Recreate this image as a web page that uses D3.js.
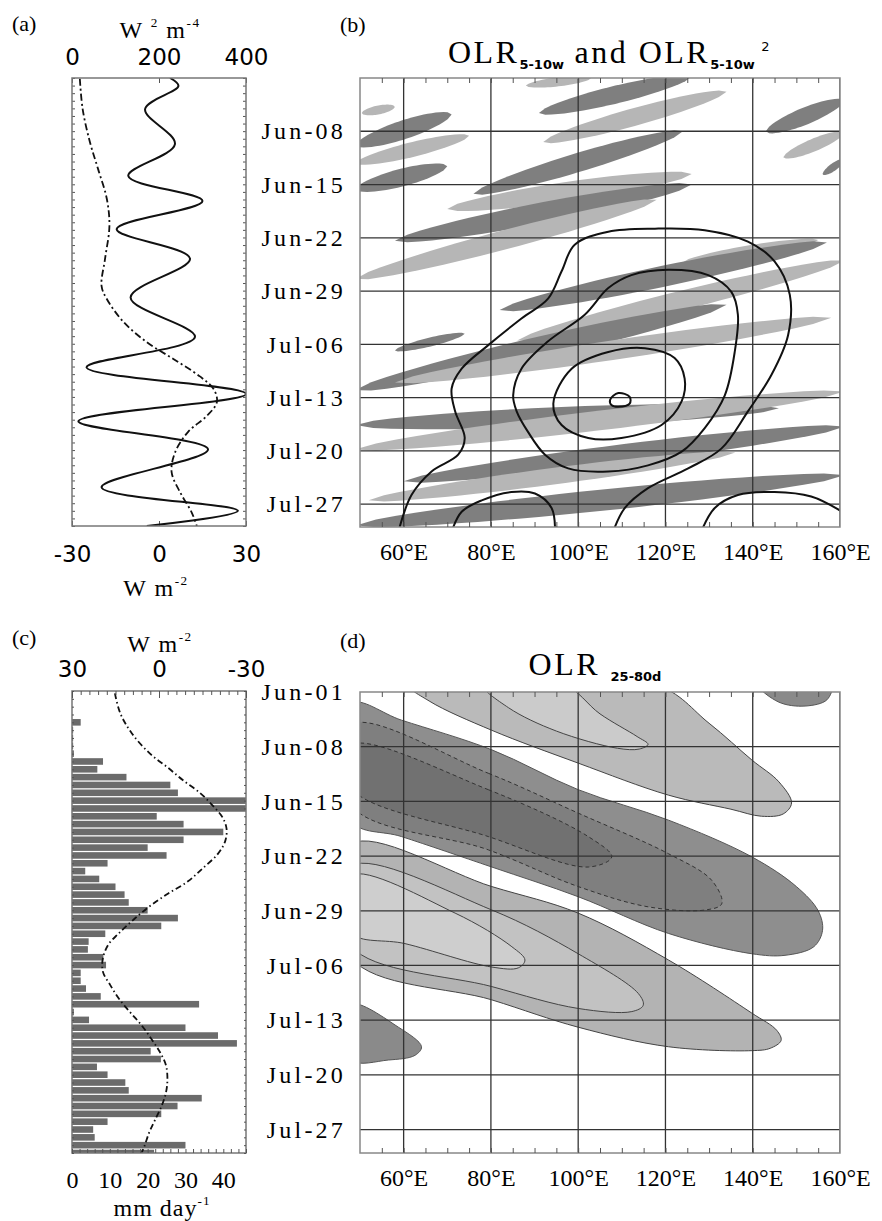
<!DOCTYPE html>
<html><head><meta charset="utf-8">
<script src="https://cdn.jsdelivr.net/npm/d3@7"></script>
<style>body{margin:0;background:#fff}</style>
</head><body><svg id="c" width="882" height="1221"></svg>
<script>
// ---------------- DATA ----------------
// Panel (a): day index from Jun-01
const aSolidDay = [0, 1.05, 4.1, 8.7, 12.9, 16.2, 19.9, 23.8, 28.9, 34.1, 38.1, 41.6, 45.2, 48.9, 53.9, 57, 59];
const aSolidVal = [3.8, 6.7, -4.8, 5.5, -10.6, 15, -14.6, 10.7, -9.8, 12.4, -25, 30, -27.8, 16.9, -19.8, 27.2, -4.2];
const aDashDay = [0.1, 4.1, 8.4, 12, 15.9, 19.5, 23.8, 27.4, 29.1, 32.1, 34.8, 37, 39.3, 41, 42.7, 44.5, 46.6, 49.3, 51.9, 54.5, 57.2, 59];
const aDashVal = [18, 24.5, 41, 60, 80, 86, 76, 68, 80, 118, 172, 233, 294, 326, 333, 310, 267, 237, 229, 248, 275, 287];
// Panel (c)
const cPrecip = [0,0,0,0,2.3,0.3,0.3,0.3,0.5,8.2, 6.7,14.4,26,28,47,47,22.4,29.5,40,29.5, 20,25,9.4,3.5,7.2,11.5,13.9,15,20,28, 23.6,8.8,4.4,4.2,8.3,9,2.3,2.3,3.7,7.6, 33.6,0.5,4.5,30,38.6,43.6,20.8,23.5,6.6,9.4, 14.1,15,34.3,27.9,23.6,9.4,5.6,6,30,21.7];
const cDashDay = [0.3, 2.8, 5.4, 8, 9.8, 11.4, 13.1, 14.7, 16.2, 17.6, 19.2, 20.8, 22.6, 24.3, 26, 27.8, 29.4, 31, 32.4, 34.2, 35.9, 37.5, 39.3, 41, 42.7, 44.5, 46.1, 47.8, 49.6, 51.3, 53, 54.8, 56.4, 58.1, 59];
const cDashVal = [15.2, 13.4, 9.4, 3.1, -3.1, -8.3, -14.4, -18.7, -22, -23.3, -22.8, -20.3, -15.2, -10, -2.6, 4.3, 9.4, 14, 17.5, 19.4, 19.3, 16.9, 13.8, 10, 6, 2.5, -0.3, -2.4, -2.9, -2.4, -0.9, 1.4, 3.4, 5, 6];
// Panel (b): streaks [lon1, day1, lon2, day2, thickness(days), shade]
const bStreaks = [
 [50.4, 4.6, 58, 3.8, 1.2, "l"],
 [49, 8.8, 71, 4.8, 2.6, "d"],
 [49, 11.2, 75, 7.6, 2.0, "l"],
 [49, 14.6, 70, 11.6, 2.4, "d"],
 [88, 1.0, 103, 0.0, 1.2, "l"],
 [91, 4.6, 126, -0.2, 2.4, "d"],
 [92, 8.4, 134, 1.8, 2.4, "l"],
 [143, 7.0, 161, 3.0, 2.4, "d"],
 [147, 10.4, 161, 7.2, 1.8, "l"],
 [156, 12.6, 161, 10.8, 1.2, "d"],
 [76, 15.2, 124, 7.0, 2.6, "d"],
 [70, 17.2, 126, 12.6, 2.6, "l"],
 [58, 21.4, 126, 14.0, 2.8, "d"],
 [49, 26.4, 118, 16.0, 2.6, "l"],
 [124, 24.2, 155, 21.3, 1.6, "l"],
 [82, 30.5, 157, 21.6, 2.8, "d"],
 [86, 34.5, 161, 24, 2.6, "l"],
 [58, 35.8, 74, 33.6, 1.2, "d"],
 [49, 41, 134, 29.8, 3.0, "d"],
 [58, 40, 158, 31.5, 2.6, "l"],
 [49, 45.6, 146, 43.4, 2.6, "d"],
 [49, 48.8, 161, 41.2, 2.6, "l"],
 [60, 53, 161, 45.8, 2.6, "d"],
 [52, 55.5, 136, 49.2, 2.2, "l"],
 [49, 58.8, 161, 52.2, 2.8, "d"]
];
// Panel (b): OLR^2 contours [lon, day]
const bOuter = [[58.8,59.6],[61.8,54.8],[66.4,51.7],[72.5,49.5],[74,47.3],[71.8,43.8],[71,40.8],[73.3,38.2],[79.4,35.1],[87,31.6],[93.1,29],[96.2,25.4],[99.2,21.9],[106.9,20.2],[117.6,19.8],[129,20],[138.9,21.5],[145,24.1],[148.5,28.5],[148.1,33.8],[144.3,39],[138.9,43.8],[132.8,48.7],[125.2,51.3],[116,53.9],[110.7,56.5],[108,59.6]];
const bMiddle = [[85.1,41.7],[87,38.2],[93.1,34.6],[101.5,31.1],[106.9,27.6],[112.2,25.9],[120.6,25.2],[129.8,25.9],[135.1,28.1],[136.6,31.1],[135.9,35.9],[133.6,41.7],[129,46],[123.7,49.1],[116,50.9],[106.9,51.7],[97.7,51.3],[92.4,49.5],[88.5,46.5],[85.9,43.8]];
const bInner = [[94.3,42.8],[98.5,38.2],[106.9,36],[115.3,35.5],[122.1,36.8],[124.4,39.5],[123.7,42.5],[119.1,45.6],[109.9,47.3],[102.3,47.3],[96.2,45.6]];
const bTiny = [[107.3,42.3],[109.2,41.4],[111.8,41.9],[111.8,42.8],[109.2,43.2],[107.7,43]];
const bArcLow = [[71,59.6],[73.3,57],[77.9,55.5],[84.7,54.4],[90.1,54.6],[93.9,56.5],[94.7,59.6]];
const bArcRight = [[128.2,59.6],[131.3,56.5],[136.6,54.8],[145,54.4],[153.4,55],[160.5,57]];
// Panel (d): regions [lon, day]
const dA = [[61,-1],[117.5,-1],[130,4],[139.8,8.7],[146,11.5],[148.9,14.2],[147,15.6],[142,15.9],[135,15],[120.7,13.2],[100,9.1],[80.2,4.9],[66,1.2]];
const dAin = [[78,-1],[96.5,-1],[105,2.8],[113.5,5.7],[116,6.7],[114,7.3],[109,7.2],[95,5],[84,2]];
const dB = [[48,1.5],[59.5,3.6],[80.2,7.4],[100,12.5],[120.7,16.4],[139.8,21.1],[150,24.9],[155,28],[156,30.5],[154,32.6],[147.4,33.7],[139.8,33.5],[120.7,30.9],[100,26.2],[80.2,22.4],[59.5,18.5],[48,16.5]];
const dBd1 = [[48,4.2],[79.4,10.4],[100,15.5],[120.7,20.7],[130.6,24.1],[132.9,27.1],[129.1,27.9],[116.1,27.5],[100,24.9],[79.4,20.2],[48,14.5]];
const dBd2 = [[48,6.8],[79.4,12.5],[102.3,18.5],[107.7,21.1],[102.3,22.4],[79.4,18.5],[48,12.3]];
const dC = [[48,19.5],[80.2,24.9],[100,28.3],[120.7,34.3],[139.8,41.1],[145.5,43.3],[146.5,44.6],[144,45.6],[139.8,45.9],[120.7,45.4],[100,42.9],[80.2,39.4],[48,34]];
const dCmid = [[48,22.3],[80.2,27.9],[100,33.5],[113.8,38.6],[114.9,40.1],[112.3,40.9],[100,40.5],[80.2,37.7],[48,32.5]];
const dCin = [[48,23.5],[71.8,28.3],[84.8,32.6],[87.8,34.3],[86.3,35.3],[80.2,35.2],[60.3,32.2],[48,30.8]];
const dD = [[48,40],[58.8,42.9],[64.1,45.4],[62.6,46.5],[56.5,47.1],[48,47.1]];
const dE = [[141.5,-0.8],[158,-0.8],[157,1],[152,1.8],[146,1.3]];
// ticks
const bDateTicks = [7,14,21,28,35,42,49,56];
const dDateTicks = [0,7,14,21,28,35,42,49,56];
const lonTicks = [60,80,100,120,140,160];

// ---------------- DRAW ----------------
const svg = d3.select("#c");
const SERIF = "'Liberation Serif','Times New Roman',serif";
const SANS = "'DejaVu Sans',sans-serif";
const fmtDate = d => d3.timeFormat("%b-%d")(d3.timeDay.offset(new Date(2000,5,1), d));
const fmtNum = d => String(d);
const defs = svg.append("defs");

function clip(id, x0,y0,x1,y1){
  defs.append("clipPath").attr("id",id).append("rect").attr("x",x0).attr("y",y0).attr("width",x1-x0).attr("height",y1-y0);
}
function styleAxis(g, size, fam){
  g.select(".domain").remove();
  g.selectAll("line").attr("stroke","#555").attr("stroke-width",1);
  g.selectAll("text").attr("font-family",fam).attr("font-size",size).attr("fill","#000");
}
function txt(x,y,s,size,fam,anchor){
  return svg.append("text").attr("x",x).attr("y",y).attr("font-family",fam||SERIF).attr("font-size",size).attr("text-anchor",anchor||"start").text(s);
}
function unitLabel(x,y,base,sup,base2,sup2,size){
  const t = svg.append("text").attr("x",x).attr("y",y).attr("font-family",SERIF).attr("font-size",size).attr("text-anchor","middle");
  t.append("tspan").text(base);
  if(sup){t.append("tspan").attr("font-size",size*0.55).attr("dy",-size*0.45).text(sup);}
  if(base2){t.append("tspan").attr("dy",sup?size*0.45:0).text(base2);}
  if(sup2){t.append("tspan").attr("font-size",size*0.55).attr("dy",-size*0.45).text(sup2);}
  return t;
}

// ===== Panel (a) =====
const xAt = d3.scaleLinear([0,400],[72,246]);
const xAb = d3.scaleLinear([-30,30],[72,246]);
const yA = d3.scaleLinear([0,59],[78,526]);
clip("clipA",72,78,246,526);
txt(12,31,"(a)",22);
unitLabel(160,38,"W ","2"," m","-4",24).attr("letter-spacing",1.5);
let g = svg.append("g").attr("transform","translate(0,78)").call(d3.axisTop(xAt).tickValues([0,200,400]).tickSize(-5).tickPadding(13).tickSizeOuter(0).tickFormat(fmtNum));
styleAxis(g,23,SANS);
g = svg.append("g").attr("transform","translate(0,526)").call(d3.axisBottom(xAb).tickValues([-30,0,30]).tickSize(-5).tickPadding(20).tickSizeOuter(0).tickFormat(fmtNum));
styleAxis(g,23,SANS);
g = svg.append("g").attr("transform","translate(72,0)").call(d3.axisRight(yA).tickValues(d3.range(0,60,1)).tickSize(3).tickFormat("").tickSizeOuter(0));
styleAxis(g,10,SANS);
g = svg.append("g").attr("transform","translate(246,0)").call(d3.axisLeft(yA).tickValues(d3.range(0,60,1)).tickSize(3).tickFormat("").tickSizeOuter(0));
styleAxis(g,10,SANS);
unitLabel(156,596,"W m","-2",null,null,24).attr("letter-spacing",1.5);
const aG = svg.append("g").attr("clip-path","url(#clipA)");
aG.append("path").datum(d3.zip(aDashDay,aDashVal))
  .attr("d",d3.line().x(d=>xAt(d[1])).y(d=>yA(d[0])).curve(d3.curveCatmullRom))
  .attr("fill","none").attr("stroke","#111").attr("stroke-width",1.8).attr("stroke-dasharray","7,3,2,3");
aG.append("path").datum(d3.zip(aSolidDay,aSolidVal))
  .attr("d",d3.line().x(d=>xAb(d[1])).y(d=>yA(d[0])).curve(d3.curveCatmullRom))
  .attr("fill","none").attr("stroke","#111").attr("stroke-width",2);
svg.append("rect").attr("x",72).attr("y",78).attr("width",174).attr("height",448).attr("fill","none").attr("stroke","#777").attr("stroke-width",1.5);

// ===== Panel (b) =====
const xB = d3.scaleLinear([50,160],[360,840]);
const yB = d3.scaleLinear([0,59],[78,527]);
clip("clipB",360,78,840,527);
txt(340,32,"(b)",22);
{
  const t = svg.append("text").attr("x",610).attr("y",63).attr("font-family",SERIF).attr("font-size",32).attr("letter-spacing",2.5).attr("text-anchor","middle");
  t.append("tspan").text("OLR");
  t.append("tspan").attr("font-family",SANS).attr("font-weight","bold").attr("font-size",13).attr("letter-spacing",0).attr("dy",6).text("5-10w");
  t.append("tspan").attr("dy",-6).text(" and OLR");
  t.append("tspan").attr("font-family",SANS).attr("font-weight","bold").attr("font-size",13).attr("letter-spacing",0).attr("dy",6).text("5-10w");
  t.append("tspan").attr("font-family",SANS).attr("font-size",13).attr("dy",-18).text(" 2");
}
const bG = svg.append("g").attr("clip-path","url(#clipB)");
function lens(s){
  const [l1,d1,l2,d2,w]=s, up=[], dn=[];
  for(let i=0;i<=24;i++){
    const t=i/24, h=(w/2)*Math.pow(Math.sin(Math.PI*t),0.5);
    const l=l1+(l2-l1)*t, d=d1+(d2-d1)*t;
    up.push([l,d-h]); dn.push([l,d+h]);
  }
  return up.concat(dn.reverse());
}
const lineB = d3.line().x(p=>xB(p[0])).y(p=>yB(p[1]));
bG.selectAll("path.streak").data(bStreaks).join("path").attr("class","streak")
  .attr("d",s=>lineB.curve(d3.curveLinearClosed)(lens(s)))
  .attr("fill",s=>s[5]==="d"?"#7f7f7f":"#b6b6b6");
// grid
bG.selectAll("line.vg").data(lonTicks).join("line").attr("x1",d=>xB(d)).attr("x2",d=>xB(d)).attr("y1",78).attr("y2",527).attr("stroke","#333").attr("stroke-width",1.3);
bG.selectAll("line.hg").data(bDateTicks).join("line").attr("y1",d=>yB(d)).attr("y2",d=>yB(d)).attr("x1",360).attr("x2",840).attr("stroke","#333").attr("stroke-width",1.3);
// contours
const closedB = d3.line().x(p=>xB(p[0])).y(p=>yB(p[1])).curve(d3.curveCatmullRomClosed);
const openB = d3.line().x(p=>xB(p[0])).y(p=>yB(p[1])).curve(d3.curveCatmullRom);
[bOuter,bArcLow,bArcRight].forEach(c=>bG.append("path").attr("d",openB(c)).attr("fill","none").attr("stroke","#111").attr("stroke-width",2));
[bMiddle,bInner,bTiny].forEach(c=>bG.append("path").attr("d",closedB(c)).attr("fill","none").attr("stroke","#111").attr("stroke-width",2));
svg.append("rect").attr("x",360).attr("y",78).attr("width",480).attr("height",449).attr("fill","none").attr("stroke","#888").attr("stroke-width",1.5);
g = svg.append("g").attr("transform","translate(0,78)").call(d3.axisTop(xB).tickValues(d3.range(55,160,5)).tickSize(-5).tickFormat("").tickSizeOuter(0)); styleAxis(g,10,SANS);
g = svg.append("g").attr("transform","translate(0,527)").call(d3.axisBottom(xB).tickValues(d3.range(55,160,5)).tickSize(-5).tickFormat("").tickSizeOuter(0)); styleAxis(g,10,SANS);
g = svg.append("g").attr("transform","translate(0,527)").call(d3.axisBottom(xB).tickValues(lonTicks).tickSize(0).tickPadding(16).tickFormat(d=>d+"°E")); styleAxis(g,24,SERIF);
g = svg.append("g").attr("transform","translate(360,0)").call(d3.axisLeft(yB).tickValues(bDateTicks).tickSize(0).tickPadding(14).tickFormat(fmtDate)); styleAxis(g,24,SERIF);
g.selectAll("text").attr("letter-spacing",3.2);

// ===== Panel (c) =====
const xCt = d3.scaleLinear([30,-30],[72,246]);
const xCb = d3.scaleLinear([0,46],[72,246]);
const yC = d3.scaleLinear([0,59],[691,1153]);
clip("clipC",72,691,246,1153);
txt(12,645,"(c)",22);
unitLabel(160,652,"W m","-2",null,null,24).attr("letter-spacing",1.5);
const cG = svg.append("g").attr("clip-path","url(#clipC)");
cG.selectAll("rect.bar").data(cPrecip).join("rect").attr("class","bar")
  .attr("x",72).attr("width",d=>xCb(d)-72)
  .attr("y",(d,i)=>yC(i-0.42)).attr("height",(d,i)=>yC(i+0.42)-yC(i-0.42))
  .attr("fill","#6b6b6b");
cG.append("path").datum(d3.zip(cDashDay,cDashVal))
  .attr("d",d3.line().x(d=>xCt(d[1])).y(d=>yC(d[0])).curve(d3.curveCatmullRom))
  .attr("fill","none").attr("stroke","#111").attr("stroke-width",1.8).attr("stroke-dasharray","6,3,1.5,3");
svg.append("rect").attr("x",72).attr("y",691).attr("width",174).attr("height",462).attr("fill","none").attr("stroke","#777").attr("stroke-width",1.5);
g = svg.append("g").attr("transform","translate(0,691)").call(d3.axisTop(xCt).tickValues(d3.range(30,-31,-3)).tickSize(-4).tickFormat("").tickSizeOuter(0)); styleAxis(g,10,SANS);
g = svg.append("g").attr("transform","translate(0,691)").call(d3.axisTop(xCt).tickValues([30,0,-30]).tickSize(-7).tickPadding(14).tickSizeOuter(0).tickFormat(fmtNum)); styleAxis(g,23,SANS);
g = svg.append("g").attr("transform","translate(0,1153)").call(d3.axisBottom(xCb).tickValues(d3.range(0,47,2)).tickSize(-4).tickFormat("").tickSizeOuter(0)); styleAxis(g,10,SANS);
g = svg.append("g").attr("transform","translate(0,1153)").call(d3.axisBottom(xCb).tickValues([0,10,20,30,40]).tickSize(0).tickPadding(18).tickFormat(fmtNum)); styleAxis(g,24,SERIF);
g = svg.append("g").attr("transform","translate(72,0)").call(d3.axisRight(yC).tickValues(d3.range(0,60,1)).tickSize(2).tickFormat("").tickSizeOuter(0)); styleAxis(g,10,SANS);
g = svg.append("g").attr("transform","translate(246,0)").call(d3.axisLeft(yC).tickValues(d3.range(0,60,1)).tickSize(2).tickFormat("").tickSizeOuter(0)); styleAxis(g,10,SANS);
unitLabel(162,1216,"mm day","-1",null,null,24).attr("letter-spacing",1);

// ===== Panel (d) =====
const xD = d3.scaleLinear([50,160],[360,840]);
const yD = d3.scaleLinear([0,59],[692,1153]);
clip("clipD",360,692,840,1153);
txt(340,648,"(d)",22);
{
  const t = svg.append("text").attr("x",595).attr("y",675).attr("font-family",SERIF).attr("font-size",32).attr("letter-spacing",2.5).attr("text-anchor","middle");
  t.append("tspan").text("OLR ");
  t.append("tspan").attr("font-family",SANS).attr("font-weight","bold").attr("font-size",13).attr("letter-spacing",0).attr("dy",6).text("25-80d");
}
const dG = svg.append("g").attr("clip-path","url(#clipD)");
const closedD = d3.line().x(p=>xD(p[0])).y(p=>yD(p[1])).curve(d3.curveCatmullRomClosed);
function region(pts, fill, stroke, dash){
  dG.append("path").attr("d",closedD(pts)).attr("fill",fill||"none").attr("stroke",stroke||"none").attr("stroke-width",1).attr("stroke-dasharray",dash||null);
}
region(dA,"#bababa","#444");
region(dAin,"#cbcbcb","#444");
region(dB,"#8e8e8e","#555");
region(dBd1,"#7f7f7f","#333","4,3");
region(dBd2,"#717171","#333","4,3");
region(dC,"#b3b3b3","#444");
region(dCmid,"#c2c2c2","#444");
region(dCin,"#cecece","#444");
region(dD,"#8a8a8a","#555");
region(dE,"#8a8a8a","#555");
dG.selectAll("line.vg").data(lonTicks).join("line").attr("x1",d=>xD(d)).attr("x2",d=>xD(d)).attr("y1",692).attr("y2",1153).attr("stroke","#333").attr("stroke-width",1.3);
dG.selectAll("line.hg").data(dDateTicks.slice(1)).join("line").attr("y1",d=>yD(d)).attr("y2",d=>yD(d)).attr("x1",360).attr("x2",840).attr("stroke","#333").attr("stroke-width",1.3);
svg.append("rect").attr("x",360).attr("y",692).attr("width",480).attr("height",461).attr("fill","none").attr("stroke","#888").attr("stroke-width",1.5);
g = svg.append("g").attr("transform","translate(0,692)").call(d3.axisTop(xD).tickValues(d3.range(55,160,5)).tickSize(-5).tickFormat("").tickSizeOuter(0)); styleAxis(g,10,SANS);
g = svg.append("g").attr("transform","translate(0,1153)").call(d3.axisBottom(xD).tickValues(d3.range(55,160,5)).tickSize(-5).tickFormat("").tickSizeOuter(0)); styleAxis(g,10,SANS);
g = svg.append("g").attr("transform","translate(0,1153)").call(d3.axisBottom(xD).tickValues(lonTicks).tickSize(0).tickPadding(16).tickFormat(d=>d+"°E")); styleAxis(g,24,SERIF);
g = svg.append("g").attr("transform","translate(360,0)").call(d3.axisLeft(yD).tickValues(dDateTicks).tickSize(0).tickPadding(14).tickFormat(fmtDate)); styleAxis(g,24,SERIF);
g.selectAll("text").attr("letter-spacing",3.2);
</script></body></html>
